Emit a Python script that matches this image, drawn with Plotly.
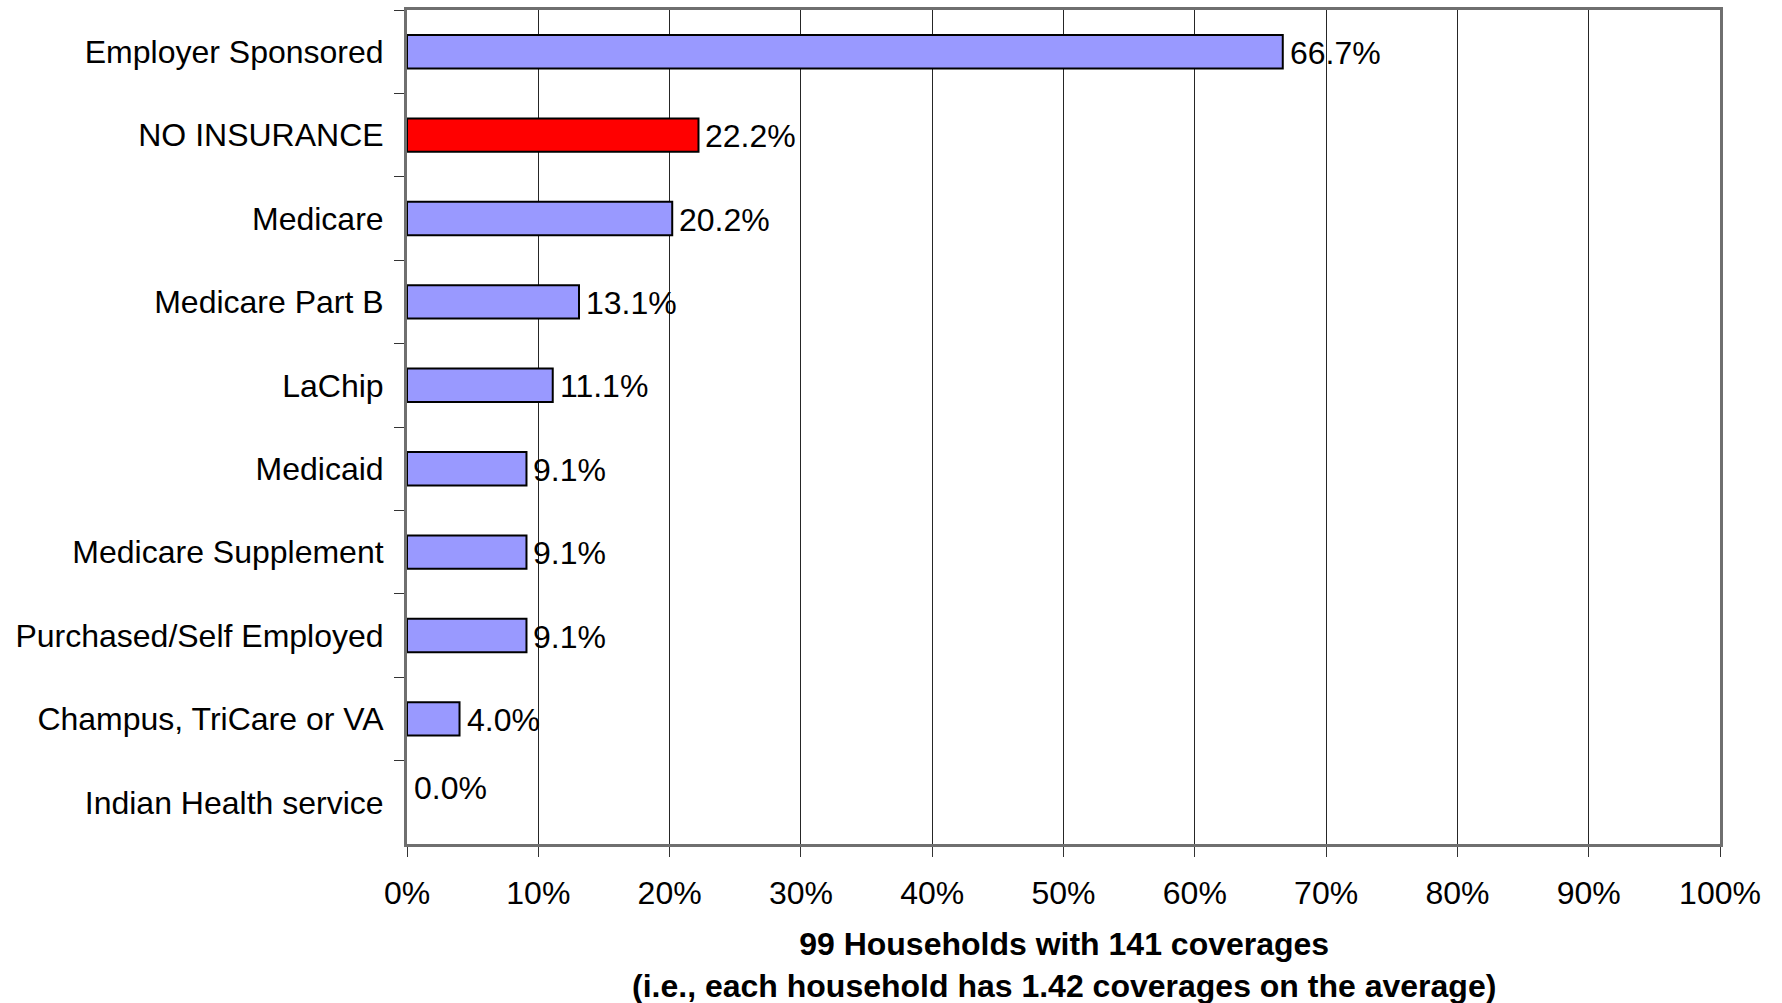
import plotly.graph_objects as go

categories = ["Employer Sponsored", "NO INSURANCE", "Medicare", "Medicare Part B",
              "LaChip", "Medicaid", "Medicare Supplement", "Purchased/Self Employed",
              "Champus, TriCare or VA", "Indian Health service"]
values = [66.7, 22.2, 20.2, 13.1, 11.1, 9.1, 9.1, 9.1, 4.0, 0.0]
highlight = ["NO INSURANCE"]
x_ticks = [0, 10, 20, 30, 40, 50, 60, 70, 80, 90, 100]
x_title = "99 Households with 141 coverages<br>(i.e., each household has 1.42 coverages on the average)"

FONT = "Liberation Sans, Arial, sans-serif"
bar_colors = ["#FF0000" if c in highlight else "#9999FF" for c in categories]
line_widths = [2 if v > 0 else 0 for v in values]

fig = go.Figure()
fig.add_trace(go.Bar(
    y=categories, x=values, orientation="h",
    marker=dict(color=bar_colors, line=dict(color="#000000", width=line_widths)),
    width=0.4, hoverinfo="skip", showlegend=False,
))

for c, v in zip(categories, values):
    fig.add_annotation(
        x=v, y=c, xref="x", yref="y", text=f"{v:.1f}%", showarrow=False,
        xanchor="left", yanchor="middle", xshift=5, yshift=(14 if v == 0 else -1),
        font=dict(family=FONT, size=32, color="#000000"),
    )

fig.add_annotation(
    x=0.5, y=-0.096, xref="paper", yref="paper", text="<b>" + x_title + "</b>",
    showarrow=False, xanchor="center", yanchor="top",
    font=dict(family=FONT, size=32, color="#000000"),
)

fig.update_layout(
    width=1782, height=1003,
    margin=dict(l=407, r=62, t=10, b=159, autoexpand=False),
    paper_bgcolor="#FFFFFF", plot_bgcolor="#FFFFFF",
    font=dict(family=FONT, size=32, color="#000000"),
    bargap=0.6,
)
fig.update_xaxes(
    range=[0, 100], tickvals=x_ticks, ticktext=[f"{t}%" for t in x_ticks],
    showgrid=True, gridcolor="#262626", gridwidth=1,
    showline=True, linecolor="#6F6F6F", linewidth=3, mirror=True,
    ticks="outside", ticklen=10, tickcolor="#333333", tickwidth=1,
    ticklabelstandoff=9, zeroline=False, automargin=False,
    tickfont=dict(family=FONT, size=32, color="#000000"),
)
fig.update_yaxes(
    categoryorder="array", categoryarray=categories, autorange="reversed",
    showgrid=False, showline=True, linecolor="#6F6F6F", linewidth=3, mirror=True,
    ticks="outside", ticklen=10, tickcolor="#333333", tickwidth=1,
    tickson="boundaries", ticklabelstandoff=14, automargin=False,
    tickfont=dict(family=FONT, size=32, color="#000000"),
)

fig.write_html("out.html", config={"displayModeBar": False},
               post_script="document.body.style.margin='0';document.body.style.overflow='hidden';")
